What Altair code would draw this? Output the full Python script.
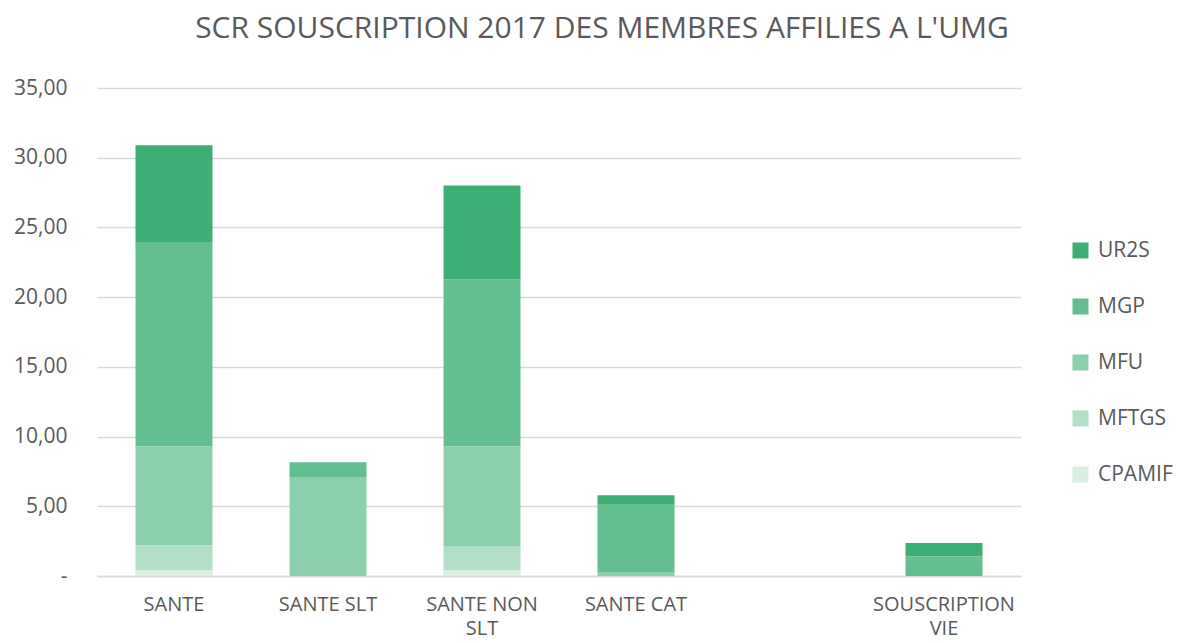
import altair as alt
import pandas as pd

categories = ["SANTE", "SANTE SLT", "SANTE NON SLT", "SANTE CAT", " ", "SOUSCRIPTION VIE"]
series = ["UR2S", "MGP", "MFU", "MFTGS", "CPAMIF"]
colors = ["#3dae74", "#63be90", "#8bcfad", "#b3dfc8", "#d8efe2"]

UR2S = [6.94, 0, 6.72, 0.63, 0, 0.98]
MGP = [14.68, 1.10, 12.00, 4.87, 0, 1.39]
MFU = [7.10, 7.05, 7.18, 0.29, 0, 0]
MFTGS = [1.75, 0, 1.67, 0, 0, 0]
CPAMIF = [0.43, 0, 0.43, 0, 0, 0]

vals = {"UR2S": UR2S, "MGP": MGP, "MFU": MFU, "MFTGS": MFTGS, "CPAMIF": CPAMIF}
rows = []
for s in series:
    for c, v in zip(categories, vals[s]):
        if v > 0:
            rows.append({"cat": c, "serie": s, "val": v, "ord": 4 - series.index(s)})
df = pd.DataFrame(rows)

FONT = "Open Sans"
GREY = "#595959"

label_expr = ("datum.label == 'SANTE NON SLT' ? ['SANTE NON', 'SLT'] : "
              "datum.label == 'SOUSCRIPTION VIE' ? ['SOUSCRIPTION', 'VIE'] : datum.label")

chart = alt.Chart(df).mark_bar().encode(
    x=alt.X("cat:N", sort=categories,
            scale=alt.Scale(domain=categories, paddingInner=0.5, paddingOuter=0.25),
            axis=alt.Axis(title=None, labelAngle=0, labelExpr=label_expr, ticks=False,
                          domainColor="#d9d9d9", domainWidth=1.5, labelFontSize=20,
                          labelColor=GREY, labelFont=FONT, labelPadding=18,
                          labelLineHeight=24)),
    y=alt.Y("val:Q", stack="zero",
            scale=alt.Scale(domain=[0, 35], nice=False),
            axis=alt.Axis(title=None, values=[0, 5, 10, 15, 20, 25, 30, 35],
                          labelExpr="datum.value == 0 ? '-' : replace(format(datum.value, '.2f'), '.', ',')",
                          domain=False, ticks=False, gridColor="#d9d9d9", gridWidth=1.5,
                          labelFontSize=21, labelColor=GREY, labelFont=FONT, labelPadding=30)),
    color=alt.Color("serie:N", scale=alt.Scale(domain=series, range=colors),
                    legend=alt.Legend(title=None, orient="none", legendX=973, legendY=152,
                                      symbolType="square", symbolSize=256, symbolStrokeWidth=0,
                                      labelFontSize=21, labelColor=GREY, labelFont=FONT,
                                      rowPadding=34, labelOffset=7, padding=0)),
    order=alt.Order("ord:Q", sort="ascending"),
).properties(
    width=924, height=488,
    autosize=alt.AutoSizeParams(type="none"),
    padding={"left": 89, "top": 80, "right": 153, "bottom": 59},
    title=alt.TitleParams("SCR SOUSCRIPTION 2017 DES MEMBRES AFFILIES A L'UMG",
                          fontSize=30, font=FONT, fontWeight="normal", color=GREY,
                          anchor="middle", dx=43, offset=33),
).configure_view(stroke=None)

chart.save("out.html", embed_options={"renderer": "svg", "actions": False})
